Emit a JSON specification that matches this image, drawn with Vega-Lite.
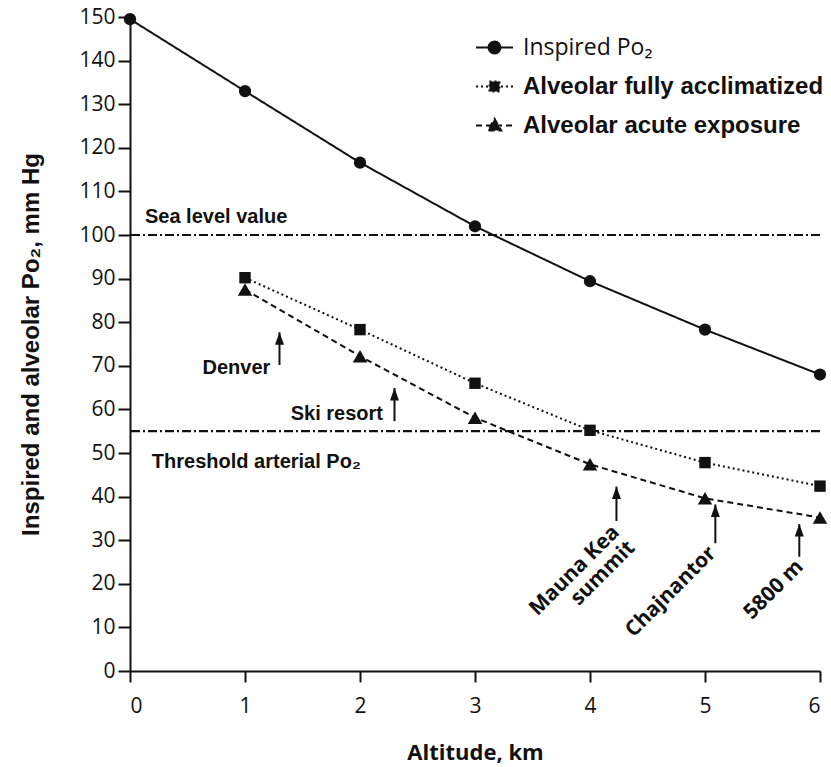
{
  "$schema": "https://vega.github.io/schema/vega-lite/v6.json",
  "width": 690,
  "height": 654,
  "autosize": "none",
  "padding": {"left": 130, "top": 17, "right": 11, "bottom": 96},
  "background": "white",
  "config": {"view": {"stroke": null}, "font": "Liberation Sans"},
  "datasets": {
    "series": [
      {"series": "Inspired Po₂", "alt": 0, "po2": 149.5},
      {"series": "Inspired Po₂", "alt": 1, "po2": 133.0},
      {"series": "Inspired Po₂", "alt": 2, "po2": 116.6},
      {"series": "Inspired Po₂", "alt": 3, "po2": 102.0},
      {"series": "Inspired Po₂", "alt": 4, "po2": 89.4},
      {"series": "Inspired Po₂", "alt": 5, "po2": 78.3},
      {"series": "Inspired Po₂", "alt": 6, "po2": 68.0},
      {"series": "Alveolar fully acclimatized", "alt": 1, "po2": 90.2},
      {"series": "Alveolar fully acclimatized", "alt": 2, "po2": 78.3},
      {"series": "Alveolar fully acclimatized", "alt": 3, "po2": 66.0},
      {"series": "Alveolar fully acclimatized", "alt": 4, "po2": 55.2},
      {"series": "Alveolar fully acclimatized", "alt": 5, "po2": 47.8},
      {"series": "Alveolar fully acclimatized", "alt": 6, "po2": 42.4},
      {"series": "Alveolar acute exposure", "alt": 1, "po2": 87.5},
      {"series": "Alveolar acute exposure", "alt": 2, "po2": 72.2},
      {"series": "Alveolar acute exposure", "alt": 3, "po2": 58.1},
      {"series": "Alveolar acute exposure", "alt": 4, "po2": 47.4},
      {"series": "Alveolar acute exposure", "alt": 5, "po2": 39.6},
      {"series": "Alveolar acute exposure", "alt": 6, "po2": 35.2}
    ],
    "refs": [{"level": 100}, {"level": 55}],
    "arrows": [
      {"place": "Denver", "alt": 1.3, "from": 70.2, "to": 77.7},
      {"place": "Ski resort", "alt": 2.3, "from": 57.3, "to": 64.9},
      {"place": "Mauna Kea", "alt": 4.23, "from": 34.4, "to": 42.3},
      {"place": "Chajnantor", "alt": 5.09, "from": 29.3, "to": 38.2},
      {"place": "5800 m", "alt": 5.82, "from": 26.2, "to": 33.7}
    ],
    "rightLabels": [
      {"text": "Denver", "alt": 1.22, "po2": 69.5},
      {"text": "Ski resort", "alt": 2.2, "po2": 58.9}
    ],
    "leftLabels": [
      {"text": "Sea level value", "alt": 0.13, "po2": 104.2},
      {"text": "Threshold arterial Po₂", "alt": 0.19, "po2": 48.0}
    ],
    "slantLabels": [
      {"text": "Mauna Kea\nsummit", "alt": 4.16, "po2": 34.3},
      {"text": "Chajnantor", "alt": 5.0, "po2": 29.5},
      {"text": "5800 m", "alt": 5.76, "po2": 26.4}
    ]
  },
  "layer": [
    {
      "data": {"name": "refs"},
      "mark": {"type": "rule", "stroke": "#111", "strokeWidth": 2.2, "strokeDash": [9, 3, 2, 3]},
      "encoding": {"y": {"field": "level", "type": "quantitative", "scale": {"domain": [0, 150], "nice": false}}}
    },
    {
      "data": {"name": "series"},
      "mark": {"type": "line", "stroke": "#111", "strokeWidth": 2},
      "encoding": {
        "x": {"field": "alt", "type": "quantitative", "scale": {"domain": [0, 6], "nice": false},
          "axis": {"values": [0, 1, 2, 3, 4, 5, 6], "format": "d", "title": "Altitude, km", "domainColor": "#111", "domainWidth": 2, "tickColor": "#111", "tickWidth": 2, "tickSize": 11, "labelFont": "Open Sans", "labelFontSize": 21, "labelColor": "#111", "labelPadding": 13, "titleFont": "Open Sans", "titleFontSize": 22, "titleFontWeight": "bold", "titleColor": "#111", "titlePadding": 26, "grid": false}},
        "y": {"field": "po2", "type": "quantitative", "scale": {"domain": [0, 150], "nice": false},
          "axis": {"values": [0, 10, 20, 30, 40, 50, 60, 70, 80, 90, 100, 110, 120, 130, 140, 150], "title": "Inspired and alveolar  Po₂, mm Hg", "domainColor": "#111", "domainWidth": 2, "tickColor": "#111", "tickWidth": 2, "tickSize": 12, "labelFont": "Open Sans", "labelFontSize": 21, "labelColor": "#111", "labelPadding": 3, "titleFont": "Liberation Sans", "titleFontSize": 24, "titleFontWeight": "bold", "titleColor": "#111", "titlePadding": 35, "grid": false}},
        "strokeDash": {"field": "series", "type": "nominal",
          "scale": {"domain": ["Inspired Po₂", "Alveolar fully acclimatized", "Alveolar acute exposure"], "range": [[1, 0], [2, 3], [6, 4]]},
          "legend": {
            "orient": "none", "legendX": 345, "legendY": 11, "title": null,
            "symbolSize": 1369, "symbolStrokeWidth": 2, "symbolStrokeColor": "#111", "symbolFillColor": "#111",
            "labelFont": "Liberation Sans", "labelFontSize": 24, "labelFontWeight": "bold", "labelColor": "#111",
            "labelOffset": 9, "rowPadding": 7, "labelLimit": 400, "padding": 0,
            "encode": {
              "symbols": {"update": {
                "shape": {"signal": "datum.value === 'Inspired Po₂' ? 'M-1,0H1M0.32,0A0.32,0.32,0,1,1,-0.32,0A0.32,0.32,0,1,1,0.32,0Z' : datum.value === 'Alveolar fully acclimatized' ? 'M-1,0H1M-0.27,-0.27H0.27V0.27H-0.27Z' : 'M-1,0H1M0,-0.36L0.36,0.27H-0.36Z'"},
                "fill": {"value": "#111"}, "stroke": {"value": "#111"}, "strokeWidth": {"value": 2}}},
              "labels": {"update": {
                "fontWeight": {"signal": "datum.value === 'Inspired Po₂' ? 'normal' : 'bold'"},
                "fontSize": {"signal": "datum.value === 'Inspired Po₂' ? 23 : 24"},
                "font": {"signal": "datum.value === 'Inspired Po₂' ? 'Open Sans' : 'Liberation Sans'"}}}
            }
          }}
      }
    },
    {
      "data": {"name": "series"},
      "transform": [{"filter": "datum.series === 'Inspired Po₂'"}],
      "mark": {"type": "point", "shape": "circle", "filled": true, "fill": "#111", "opacity": 1, "size": 150},
      "encoding": {
        "x": {"field": "alt", "type": "quantitative"},
        "y": {"field": "po2", "type": "quantitative"}
      }
    },
    {
      "data": {"name": "series"},
      "transform": [{"filter": "datum.series === 'Alveolar fully acclimatized'"}],
      "mark": {"type": "point", "shape": "square", "filled": true, "fill": "#111", "opacity": 1, "size": 130},
      "encoding": {
        "x": {"field": "alt", "type": "quantitative"},
        "y": {"field": "po2", "type": "quantitative"}
      }
    },
    {
      "data": {"name": "series"},
      "transform": [{"filter": "datum.series === 'Alveolar acute exposure'"}],
      "mark": {"type": "point", "shape": "triangle-up", "filled": true, "fill": "#111", "opacity": 1, "size": 210},
      "encoding": {
        "x": {"field": "alt", "type": "quantitative"},
        "y": {"field": "po2", "type": "quantitative"}
      }
    },
    {
      "data": {"name": "arrows"},
      "mark": {"type": "rule", "stroke": "#111", "strokeWidth": 2},
      "encoding": {
        "x": {"field": "alt", "type": "quantitative"},
        "y": {"field": "from", "type": "quantitative"},
        "y2": {"field": "to"}
      }
    },
    {
      "data": {"name": "arrows"},
      "mark": {"type": "point", "filled": true, "fill": "#111", "opacity": 1, "size": 625, "shape": "M0,0L0.36,1L-0.36,1Z"},
      "encoding": {
        "x": {"field": "alt", "type": "quantitative"},
        "y": {"field": "to", "type": "quantitative"}
      }
    },
    {
      "data": {"name": "rightLabels"},
      "mark": {"type": "text", "align": "right", "baseline": "middle", "font": "Liberation Sans", "fontWeight": "bold", "fontSize": 20, "fill": "#111"},
      "encoding": {
        "x": {"field": "alt", "type": "quantitative"},
        "y": {"field": "po2", "type": "quantitative"},
        "text": {"field": "text"}
      }
    },
    {
      "data": {"name": "leftLabels"},
      "mark": {"type": "text", "align": "left", "baseline": "middle", "font": "Liberation Sans", "fontWeight": "bold", "fontSize": 20, "fill": "#111"},
      "encoding": {
        "x": {"field": "alt", "type": "quantitative"},
        "y": {"field": "po2", "type": "quantitative"},
        "text": {"field": "text"}
      }
    },
    {
      "data": {"name": "slantLabels"},
      "mark": {"type": "text", "align": "right", "baseline": "top", "angle": 315, "lineBreak": "\n", "lineHeight": 22, "font": "Open Sans", "fontWeight": "bold", "fontSize": 21, "fill": "#111"},
      "encoding": {
        "x": {"field": "alt", "type": "quantitative"},
        "y": {"field": "po2", "type": "quantitative"},
        "text": {"field": "text"}
      }
    }
  ]
}
